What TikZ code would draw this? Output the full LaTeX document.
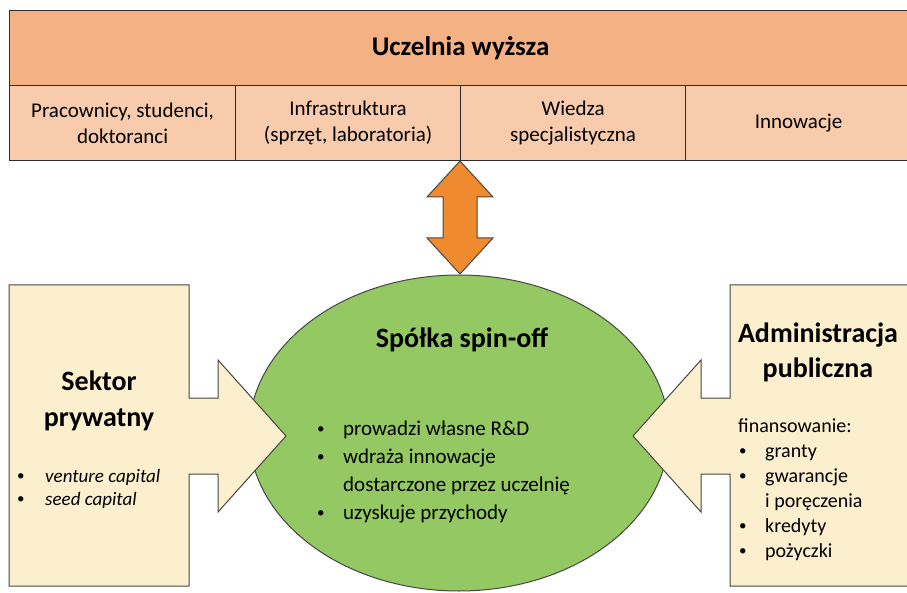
\documentclass[tikz,border=0pt]{standalone}
\usepackage{fontspec}
\setmainfont{Carlito}
\usetikzlibrary{shapes.geometric,calc}
\definecolor{hdr}{RGB}{244,177,131}
\definecolor{subc}{RGB}{248,203,173}
\definecolor{arr}{RGB}{240,138,46}
\definecolor{grn}{RGB}{148,200,98}
\definecolor{beige}{RGB}{252,239,206}
\definecolor{edge}{RGB}{45,45,45}
\definecolor{gedge}{RGB}{70,70,70}
\newcommand{\bul}[1]{\makebox[#1][l]{\upshape\fontsize{15}{15}\selectfont\raisebox{1.5pt}{•}}}
\begin{document}
\begin{tikzpicture}[x=1pt,y=-1pt,
  cell/.style={draw=edge, line width=1.2pt, fill=subc, minimum height=75pt, inner sep=0pt, anchor=north west, align=center, font=\fontsize{21}{26}\selectfont},
  head/.style={font=\fontsize{28}{36}\selectfont\bfseries, align=center, inner sep=0pt},
  callout/.style={draw=gedge, line width=1pt, fill=beige, line join=miter},
  listtxt/.style={align=left, inner sep=0pt, anchor=base west}]
\useasboundingbox (0,0) rectangle (907,593);
% top table
\node[draw=edge, line width=1.2pt, fill=hdr, minimum width=902pt, minimum height=75pt, anchor=north west, inner sep=0pt, font=\fontsize{27}{32}\selectfont\bfseries] (uczelnia) at (9,10) {Uczelnia wyższa};
\node[cell, minimum width=226pt] (c1) at (9,85) {Pracownicy, studenci,\\doktoranci};
\node[cell, minimum width=225pt] (c2) at (235,85) {Infrastruktura\\(sprzęt, laboratoria)};
\node[cell, minimum width=225pt] (c3) at (460,85) {Wiedza\\specjalistyczna};
\node[cell, minimum width=226pt] (c4) at (685,85) {Innowacje};
% ellipse
\node[ellipse, draw=gedge, line width=1pt, fill=grn, minimum width=420pt, minimum height=316pt, inner sep=0pt] (spin) at (459,433) {};
\node[head, anchor=base] (spintitle) at (462,348) {Spółka spin-off};
\node[listtxt, font=\fontsize{21}{28}\selectfont] (spinlist) at (317,519) {\bul{26pt}prowadzi własne R\&D\\\bul{26pt}wdraża innowacje\\\hspace*{26pt}dostarczone przez uczelnię\\\bul{26pt}uzyskuje przychody};
% double arrow
\coordinate (atop) at (460,161);
\coordinate (abot) at (460,274);
\draw[draw=gedge, line width=1pt, fill=arr, line join=miter]
  (atop) -- ($(atop)+(33,36)$) -- ($(atop)+(17,36)$) -- ($(abot)+(17,-36)$) -- ($(abot)+(33,-36)$) -- (abot)
  -- ($(abot)+(-33,-36)$) -- ($(abot)+(-17,-36)$) -- ($(atop)+(-17,36)$) -- ($(atop)+(-33,36)$) -- cycle;
% left callout
\coordinate (ltip) at (286,436);
\draw[callout] (9,285) -- (189,285) -- (189,398) -- (218,398) -- (218,360) -- (ltip) -- (218,512) -- (218,474) -- (189,474) -- (189,586) -- (9,586) -- cycle;
\node[head, anchor=base] (sektor) at (99,426) {Sektor\\prywatny};
\node[listtxt, font=\fontsize{19}{23}\selectfont\itshape] (sektorlist) at (17,505) {\bul{28pt}venture capital\\\bul{28pt}seed capital};
% right callout
\coordinate (rtip) at (633,436);
\draw[callout] (912,285) -- (730,285) -- (730,398) -- (701,398) -- (701,360) -- (rtip) -- (701,512) -- (701,474) -- (730,474) -- (730,586) -- (912,586) -- cycle;
\node[head, anchor=base, font=\fontsize{28}{35}\selectfont\bfseries] (admin) at (818,377) {Administracja\\publiczna};
\node[listtxt, font=\fontsize{20}{25}\selectfont] (adminlist) at (738,557) {finansowanie:\\\hspace*{1pt}\bul{26pt}granty\\\hspace*{1pt}\bul{26pt}gwarancje\\\hspace*{27pt}i poręczenia\\\hspace*{1pt}\bul{26pt}kredyty\\\hspace*{1pt}\bul{26pt}pożyczki};
\end{tikzpicture}
\end{document}
